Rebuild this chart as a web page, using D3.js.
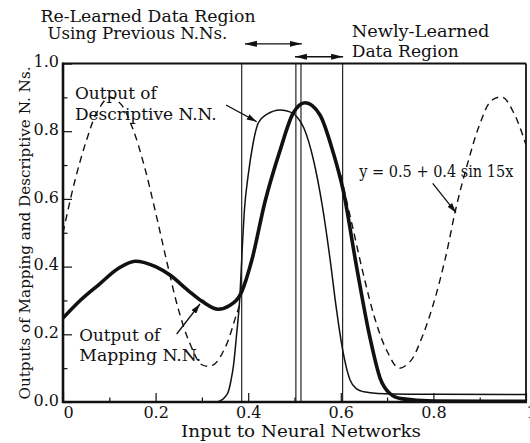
<!DOCTYPE html>
<html>
<head>
<meta charset="utf-8">
<script src="https://cdn.jsdelivr.net/npm/d3@7"></script>
<style>
  body { margin: 0; background: #fff; }
  text { font-family: "DejaVu Serif", serif; fill: #111; }
</style>
</head>
<body>
<script>
// tick values
let xMajor = [0, 0.2, 0.4, 0.6, 0.8, 1];
let xMinor = [0.1, 0.3, 0.5, 0.7, 0.9];
let yMajor = [0, 0.2, 0.4, 0.6, 0.8, 1];
let yMinor = [0.1, 0.3, 0.5, 0.7, 0.9];

// output of mapping N.N. (thick line)
let mapX = [0, 0.037, 0.08, 0.12, 0.156, 0.2, 0.231, 0.27, 0.3, 0.335, 0.36, 0.386, 0.408, 0.436, 0.469, 0.497, 0.523, 0.555, 0.584, 0.605, 0.634, 0.663, 0.685, 0.706, 0.73, 0.8, 1];
let mapY = [0.248, 0.30, 0.35, 0.395, 0.416, 0.40, 0.375, 0.33, 0.298, 0.274, 0.285, 0.326, 0.42, 0.59, 0.744, 0.853, 0.884, 0.848, 0.735, 0.626, 0.40, 0.19, 0.07, 0.025, 0.01, 0.003, 0.002];

// output of descriptive N.N. (thin line)
let descX = [0, 0.33, 0.34, 0.35, 0.357, 0.363, 0.368, 0.375, 0.382, 0.387, 0.392, 0.4, 0.41, 0.422, 0.44, 0.469, 0.49, 0.505, 0.52, 0.541, 0.56, 0.577, 0.59, 0.604, 0.62, 0.635, 0.65, 0.68, 0.75, 1];
let descY = [0, 0, 0.004, 0.015, 0.03, 0.065, 0.105, 0.2, 0.31, 0.45, 0.57, 0.67, 0.76, 0.825, 0.85, 0.863, 0.857, 0.843, 0.81, 0.715, 0.58, 0.42, 0.28, 0.154, 0.065, 0.038, 0.03, 0.025, 0.023, 0.022];

// target y = 0.5 + 0.4 sin 15x (dashed), two visible pieces
let targetX1 = [0, 0.025, 0.05, 0.075, 0.1, 0.125, 0.15, 0.175, 0.2, 0.225, 0.25, 0.275, 0.3, 0.325, 0.35, 0.375, 0.385];
let targetY1 = [0.50, 0.65, 0.77, 0.86, 0.90, 0.88, 0.81, 0.70, 0.56, 0.41, 0.27, 0.17, 0.11, 0.11, 0.16, 0.26, 0.30];
let targetX2 = [0.6, 0.625, 0.65, 0.675, 0.7, 0.725, 0.75, 0.775, 0.8, 0.825, 0.85, 0.875, 0.9, 0.925, 0.95, 0.975, 1];
let targetY2 = [0.67, 0.52, 0.37, 0.24, 0.15, 0.10, 0.12, 0.19, 0.29, 0.42, 0.58, 0.71, 0.82, 0.89, 0.90, 0.85, 0.76];

// region boundaries
let regionLines = [0.386, 0.503, 0.514, 0.604];

let width = 530, height = 443;
let plotLeft = 63, plotRight = 526, plotTop = 63.5, plotBottom = 402;

let svg = d3.select("body").append("svg")
    .attr("width", width)
    .attr("height", height);

let x = d3.scaleLinear().domain([0, 1]).range([plotLeft, plotRight]);
let y = d3.scaleLinear().domain([0, 1]).range([plotBottom, plotTop]);

let defs = svg.append("defs");
defs.append("clipPath").attr("id", "plot")
    .append("rect")
    .attr("x", plotLeft).attr("y", plotTop)
    .attr("width", plotRight - plotLeft).attr("height", plotBottom - plotTop);

defs.append("marker")
    .attr("id", "head")
    .attr("viewBox", "0 0 10 6")
    .attr("refX", 10).attr("refY", 3)
    .attr("markerWidth", 10).attr("markerHeight", 6)
    .attr("markerUnits", "userSpaceOnUse")
    .attr("orient", "auto-start-reverse")
    .append("path").attr("d", "M0,0L10,3L0,6Z").attr("fill", "#111");

defs.append("marker")
    .attr("id", "bighead")
    .attr("viewBox", "0 0 12 8")
    .attr("refX", 12).attr("refY", 4)
    .attr("markerWidth", 12).attr("markerHeight", 8)
    .attr("markerUnits", "userSpaceOnUse")
    .attr("orient", "auto-start-reverse")
    .append("path").attr("d", "M0,1L12,4L0,7Z").attr("fill", "#111");

// ticks (pointing inwards)
let xAxis = d3.axisBottom(x).tickValues(xMajor).tickSize(-9).tickPadding(5)
    .tickFormat((d) => (d === 0 || d === 1 ? String(d) : d.toFixed(1)));
let gx = svg.append("g").attr("transform", `translate(0, ${plotBottom})`).call(xAxis);
svg.append("g").attr("transform", `translate(0, ${plotBottom})`)
    .call(d3.axisBottom(x).tickValues(xMinor).tickSize(-4.5).tickFormat(""));

let yAxis = d3.axisLeft(y).tickValues(yMajor).tickSize(-9).tickPadding(4)
    .tickFormat((d) => d.toFixed(1));
let gy = svg.append("g").attr("transform", `translate(${plotLeft}, 0)`).call(yAxis);
svg.append("g").attr("transform", `translate(${plotLeft}, 0)`)
    .call(d3.axisLeft(y).tickValues(yMinor).tickSize(-4.5).tickFormat(""));

svg.selectAll(".domain").remove();
svg.selectAll(".tick line").attr("stroke", "#111").attr("stroke-width", 1.2);
svg.selectAll(".tick text")
    .attr("font-family", "DejaVu Serif")
    .attr("font-size", 16)
    .attr("fill", "#111");
gy.selectAll(".tick text").attr("dy", "0.2em");
gx.selectAll(".tick text").filter((d) => d === 0 || d === 1).attr("x", 5);

// region lines
svg.selectAll(".region")
    .data(regionLines)
    .enter()
        .append("line")
        .attr("class", "region")
        .attr("x1", (d) => x(d)).attr("x2", (d) => x(d))
        .attr("y1", plotTop).attr("y2", plotBottom)
        .attr("stroke", "#111")
        .attr("stroke-width", 1.1);

let plot = svg.append("g").attr("clip-path", "url(#plot)");

let line = d3.line()
    .x((d) => x(d[0]))
    .y((d) => y(d[1]));

plot.append("path")
    .datum(d3.zip(targetX1, targetY1))
    .attr("d", line.curve(d3.curveCatmullRom))
    .attr("fill", "none").attr("stroke", "#111")
    .attr("stroke-width", 1.4).attr("stroke-dasharray", "7,5");
plot.append("path")
    .datum(d3.zip(targetX2, targetY2))
    .attr("d", line.curve(d3.curveCatmullRom))
    .attr("fill", "none").attr("stroke", "#111")
    .attr("stroke-width", 1.4).attr("stroke-dasharray", "7,5");

plot.append("path")
    .datum(d3.zip(descX, descY))
    .attr("d", line.curve(d3.curveMonotoneX))
    .attr("fill", "none").attr("stroke", "#111")
    .attr("stroke-width", 1.5);

plot.append("path")
    .datum(d3.zip(mapX, mapY))
    .attr("d", line.curve(d3.curveMonotoneX))
    .attr("fill", "none").attr("stroke", "#111")
    .attr("stroke-width", 3.6);

// frame
svg.append("line").attr("x1", plotLeft).attr("x2", plotRight).attr("y1", plotTop).attr("y2", plotTop)
    .attr("stroke", "#111").attr("stroke-width", 1.8);
svg.append("line").attr("x1", plotRight).attr("x2", plotRight).attr("y1", plotTop).attr("y2", plotBottom)
    .attr("stroke", "#111").attr("stroke-width", 1.8);
svg.append("line").attr("x1", plotLeft).attr("x2", plotLeft).attr("y1", plotTop - 1).attr("y2", plotBottom + 1)
    .attr("stroke", "#111").attr("stroke-width", 2.6);
svg.append("line").attr("x1", plotLeft - 1).attr("x2", plotRight + 1).attr("y1", plotBottom).attr("y2", plotBottom)
    .attr("stroke", "#111").attr("stroke-width", 2.6);

// axis titles
svg.append("text")
    .attr("x", 301).attr("y", 437)
    .attr("text-anchor", "middle")
    .attr("font-size", 16)
    .attr("textLength", 240).attr("lengthAdjust", "spacingAndGlyphs")
    .text("Input to Neural Networks");

svg.append("text")
    .attr("transform", "translate(29.5, 233) rotate(-90)")
    .attr("text-anchor", "middle")
    .attr("font-size", 15)
    .attr("textLength", 333).attr("lengthAdjust", "spacingAndGlyphs")
    .text("Outputs of Mapping and Descriptive N. Ns.");

// annotations: [text, x, baseline, width]
let notes = [
    ["Re-Learned Data Region", 40.6, 21.5, 215],
    ["Using Previous N.Ns.", 47.4, 38.5, 180],
    ["Newly-Learned", 351.7, 36.7, 137.6],
    ["Data Region", 351.7, 56.5, 107],
    ["Output of", 75, 99.3, 81.7],
    ["Descriptive N.N.", 75, 120, 141.7],
    ["Output of", 79.3, 340.7, 81],
    ["Mapping N.N.", 79.3, 360.7, 122],
    ["y = 0.5 + 0.4 sin 15x", 359.3, 177.3, 154]
];

svg.selectAll(".note")
    .data(notes)
    .enter()
        .append("text")
        .attr("class", "note")
        .attr("x", (d) => d[1])
        .attr("y", (d) => d[2])
        .attr("font-size", 16)
        .attr("textLength", (d) => d[3])
        .attr("lengthAdjust", "spacingAndGlyphs")
        .text((d) => d[0]);

// double arrows above the plot, in data units
let spans = [[0.393, 0.516, 1.058], [0.501, 0.605, 1.02]];
svg.selectAll(".span")
    .data(spans)
    .enter()
        .append("line")
        .attr("x1", (d) => x(d[0])).attr("x2", (d) => x(d[1]))
        .attr("y1", (d) => y(d[2])).attr("y2", (d) => y(d[2]))
        .attr("stroke", "#111").attr("stroke-width", 1.3)
        .attr("marker-start", "url(#bighead)")
        .attr("marker-end", "url(#bighead)");

// pointer arrows (pixel positions)
let pointers = [[226, 105, 256.7, 121.7], [176.7, 334, 200, 304], [432.7, 183.3, 456, 212.7]];
svg.selectAll(".pointer")
    .data(pointers)
    .enter()
        .append("line")
        .attr("x1", (d) => d[0]).attr("y1", (d) => d[1])
        .attr("x2", (d) => d[2]).attr("y2", (d) => d[3])
        .attr("stroke", "#111").attr("stroke-width", 1.3)
        .attr("marker-end", "url(#head)");
</script>
</body>
</html>
